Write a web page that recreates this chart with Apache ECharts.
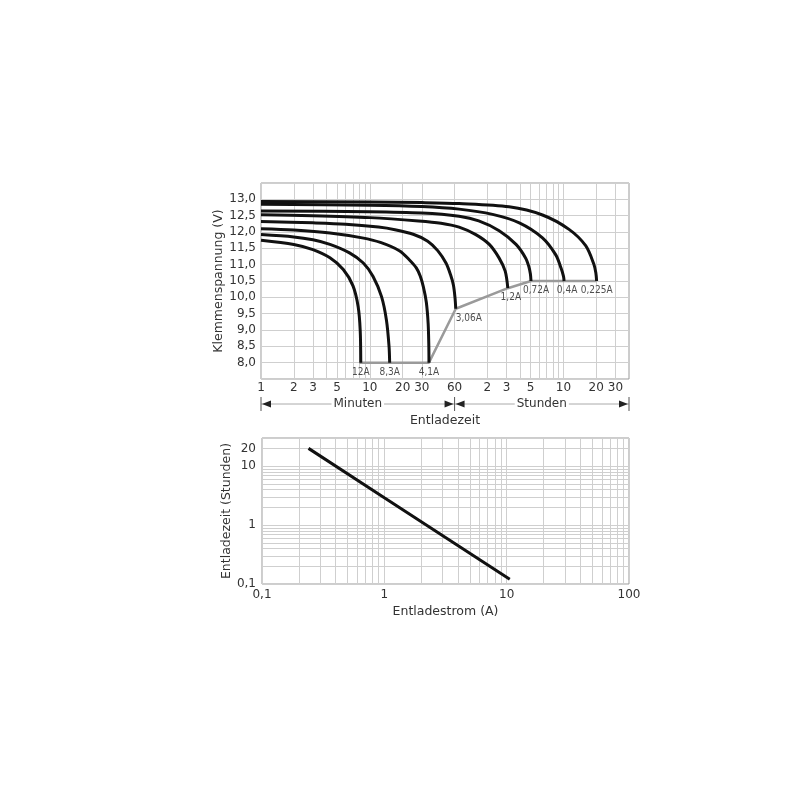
<!DOCTYPE html>
<html>
<head>
<meta charset="utf-8">
<script src="https://cdn.jsdelivr.net/npm/echarts@6/dist/echarts.min.js"></script>
<style>
  html, body { margin: 0; padding: 0; background: #fff; }
  #chart { width: 800px; height: 800px; }
</style>
</head>
<body>
<div id="chart"></div>
<script>
// ---------- Top chart: discharge curves (time in minutes, voltage in V) ----------
const timeTickValues = [1, 2, 3, 5, 10, 20, 30, 60, 120, 180, 300, 600, 1200, 1800];
const timeTickLabels = ['1', '2', '3', '5', '10', '20', '30', '60', '2', '3', '5', '10', '20', '30'];
const timeGridValues = [1, 2, 3, 4, 5, 6, 7, 8, 9, 10, 20, 30, 60, 120, 180, 240, 300, 360, 420, 480, 540, 600, 1200, 1800];

const curveNames = ['12A', '8,3A', '4,1A', '3,06A', '1,2A', '0,72A', '0,4A', '0,225A'];
const c12A = [[1, 11.75], [2, 11.62], [3, 11.46], [4.3, 11.21], [5.7, 10.85], [7, 10.35], [7.8, 9.72], [8.15, 9.0], [8.25, 8.0]];
const c8_3A = [[1, 11.92], [2, 11.85], [3, 11.76], [4.3, 11.62], [6.5, 11.36], [8.7, 11.05], [10.7, 10.64], [12.8, 10.02], [14.2, 9.3], [15, 8.5], [15.2, 8.0]];
const c4_1A = [[1, 12.1], [2, 12.06], [4.3, 11.97], [8.5, 11.82], [12.5, 11.68], [18.8, 11.42], [23, 11.15], [26.7, 10.9], [29, 10.65], [31, 10.32], [33, 9.85], [34.3, 9.2], [34.8, 8.5], [34.9, 8.0]];
const c3_06A = [[1, 12.32], [3, 12.28], [6, 12.24], [12, 12.15], [17, 12.07], [25, 11.93], [34, 11.72], [42, 11.43], [50, 11.05], [55, 10.7], [58.5, 10.38], [60.5, 10.0], [61.5, 9.65]];
const c1_2A = [[1, 12.53], [3, 12.5], [10, 12.44], [28, 12.34], [45, 12.27], [66, 12.15], [94, 11.92], [125, 11.62], [154, 11.2], [175, 10.8], [185, 10.28]];
const c0_72A = [[1, 12.64], [10, 12.62], [30, 12.58], [66, 12.48], [100, 12.34], [154, 12.04], [220, 11.62], [270, 11.2], [288, 10.95], [298, 10.72], [302, 10.5]];
const c0_4A = [[1, 12.85], [10, 12.82], [30, 12.78], [66, 12.7], [134, 12.54], [236, 12.28], [385, 11.82], [510, 11.3], [570, 10.9], [600, 10.65], [608, 10.5]];
const c0_225A = [[1, 12.93], [10, 12.92], [30, 12.9], [66, 12.87], [190, 12.77], [385, 12.52], [675, 12.08], [960, 11.58], [1140, 11.02], [1190, 10.75], [1210, 10.5]];
const curves = [c12A, c8_3A, c4_1A, c3_06A, c1_2A, c0_72A, c0_4A, c0_225A];
const endVoltageLine = [[8.0, 8.0], [34.9, 8.0], [61.5, 9.65], [185, 10.28], [302, 10.5], [1210, 10.5]];

// ---------- Bottom chart: discharge time vs. current ----------
const currentTickValues = [0.1, 1, 10, 100];
const currentGridValues = [0.1, 0.2, 0.3, 0.4, 0.5, 0.6, 0.7, 0.8, 0.9, 1, 2, 3, 4, 5, 6, 7, 8, 9, 10, 20, 30, 40, 50, 60, 70, 80, 90, 100];
const hoursTickValues = [0.1, 1, 10, 20];
const hoursGridValues = [0.1, 0.2, 0.3, 0.4, 0.5, 0.6, 0.7, 0.8, 0.9, 1, 2, 3, 4, 5, 6, 7, 8, 9, 10, 20, 30];
const currentA = [0.24, 1, 10.6];
const dischargeHours = [20, 2.9, 0.12];

// label offsets (styling only)
const labelOffsets = [[0, 0], [0, 0], [0, 0], [13, 0], [3, 0], [5, 0], [3, 0], [0, 0]];

const TXT = '#333';
const GRIDC = '#cfcfcf';
const FONT = "'DejaVu Sans', Verdana, sans-serif";
const NARROW = "'Liberation Sans Narrow', 'DejaVu Sans Condensed', sans-serif";

function commaNum(v, d) { return v.toFixed(d).replace('.', ','); }
function nearestLabel(v, vals, labels) {
  let best = 0, bd = Infinity;
  vals.forEach((t, i) => { const d = Math.abs(Math.log(t) - Math.log(v)); if (d < bd) { bd = d; best = i; } });
  return bd < 0.01 ? labels[best] : '';
}

const chart = echarts.init(document.getElementById('chart'), null, { renderer: 'canvas' });

const series = [];
series.push({
  type: 'line', xAxisIndex: 0, yAxisIndex: 0, data: endVoltageLine,
  showSymbol: false, lineStyle: { color: '#9a9a9a', width: 2.5 }, z: 2, silent: true
});
curves.forEach((c) => {
  series.push({
    type: 'line', xAxisIndex: 0, yAxisIndex: 0, data: c,
    showSymbol: false, smooth: 0.3,
    lineStyle: { color: '#111', width: 3 }, z: 3, silent: true
  });
});
series.push({
  type: 'scatter', xAxisIndex: 0, yAxisIndex: 0, symbolSize: 1,
  itemStyle: { color: 'rgba(0,0,0,0)' }, z: 4, silent: true,
  data: curves.map((c, i) => ({
    value: c[c.length - 1],
    label: {
      show: true, formatter: curveNames[i], position: 'bottom', distance: 4,
      offset: labelOffsets[i], fontFamily: NARROW, fontSize: 10, color: '#222'
    }
  }))
});
series.push({
  type: 'line', xAxisIndex: 1, yAxisIndex: 1,
  data: currentA.map((a, i) => [a, dischargeHours[i]]),
  showSymbol: false, lineStyle: { color: '#111', width: 3 }, silent: true
});

const option = {
  backgroundColor: '#fff',
  animation: false,
  textStyle: { fontFamily: FONT, color: TXT },
  grid: [
    { left: 261, top: 183, width: 368, height: 196, show: true, borderColor: '#9a9a9a', borderWidth: 1, containLabel: false },
    { left: 262, top: 438, width: 367, height: 146, show: true, borderColor: '#9a9a9a', borderWidth: 1, containLabel: false }
  ],
  xAxis: [
    {
      gridIndex: 0, type: 'log', logBase: 10, min: 1, max: 2400,
      axisLine: { show: false },
      axisTick: { show: false, customValues: timeGridValues },
      axisLabel: {
        customValues: timeTickValues, margin: 3, fontSize: 12, color: TXT, fontFamily: FONT,
        formatter: (v) => nearestLabel(v, timeTickValues, timeTickLabels)
      },
      splitLine: { show: true, lineStyle: { color: GRIDC, width: 1 } },
      name: 'Entladezeit', nameLocation: 'middle', nameGap: 35,
      nameTextStyle: { fontSize: 12.5, color: TXT, fontFamily: FONT }
    },
    {
      gridIndex: 1, type: 'log', logBase: 10, min: 0.1, max: 100,
      axisLine: { show: false },
      axisTick: { show: false, customValues: currentGridValues },
      axisLabel: {
        customValues: currentTickValues, margin: 5, fontSize: 12, color: TXT, fontFamily: FONT,
        formatter: (v) => v < 0.99 ? commaNum(v, 1) : String(Math.round(v))
      },
      splitLine: { show: true, lineStyle: { color: GRIDC, width: 1 } },
      name: 'Entladestrom (A)', nameLocation: 'middle', nameGap: 21,
      nameTextStyle: { fontSize: 12.5, color: TXT, fontFamily: FONT }
    }
  ],
  yAxis: [
    {
      gridIndex: 0, type: 'value', min: 7.5, max: 13.5, interval: 0.5,
      axisLine: { show: false }, axisTick: { show: false },
      axisLabel: {
        margin: 5, fontSize: 12, color: TXT, fontFamily: FONT,
        formatter: (v) => (v < 7.9 || v > 13.1) ? '' : commaNum(v, 1)
      },
      splitLine: { show: true, lineStyle: { color: GRIDC, width: 1 } },
      name: 'Klemmenspannung (V)', nameLocation: 'middle', nameGap: 26, nameRotate: 90,
      nameTextStyle: { fontSize: 12.5, color: TXT, fontFamily: FONT }
    },
    {
      gridIndex: 1, type: 'log', logBase: 10, min: 0.1, max: 30,
      axisLine: { show: false },
      axisTick: { show: false, customValues: hoursGridValues },
      axisLabel: {
        customValues: hoursTickValues, margin: 6, fontSize: 12, color: TXT, fontFamily: FONT,
        formatter: (v) => v < 0.99 ? commaNum(v, 1) : String(Math.round(v))
      },
      splitLine: { show: true, lineStyle: { color: GRIDC, width: 1 } },
      name: 'Entladezeit (Stunden)', nameLocation: 'middle', nameGap: 14, nameRotate: 90,
      nameTextStyle: { fontSize: 12.5, color: TXT, fontFamily: FONT }
    }
  ],
  series: series
};
chart.setOption(option);

// Minuten / Stunden arrow row under the top x axis
const xL = chart.convertToPixel({ xAxisIndex: 0 }, 1);
const xM = chart.convertToPixel({ xAxisIndex: 0 }, 60);
const xR = chart.convertToPixel({ xAxisIndex: 0 }, 2400);
const yA = 404;
const gfx = [];
gfx.push({ type: 'line', shape: { x1: xL, y1: yA, x2: xR, y2: yA }, style: { stroke: '#aaa', lineWidth: 1 } });
[xL, xM, xR].forEach((x) => {
  gfx.push({ type: 'line', shape: { x1: x, y1: yA - 7, x2: x, y2: yA + 7 }, style: { stroke: '#555', lineWidth: 1 } });
});
const arrow = (tip, dir) => ({
  type: 'polygon',
  shape: { points: [[tip, yA], [tip + dir * 9, yA - 3.5], [tip + dir * 9, yA + 3.5]] },
  style: { fill: '#222' }
});
gfx.push(arrow(xL + 1, 1), arrow(xM - 1, -1), arrow(xM + 1, 1), arrow(xR - 1, -1));
gfx.push({
  type: 'text', x: (xL + xM) / 2, y: yA,
  style: { text: 'Minuten', font: '12px ' + FONT, fill: TXT, align: 'center', verticalAlign: 'middle', backgroundColor: '#fff', padding: [0, 2] }
});
gfx.push({
  type: 'text', x: (xM + xR) / 2, y: yA,
  style: { text: 'Stunden', font: '12px ' + FONT, fill: TXT, align: 'center', verticalAlign: 'middle', backgroundColor: '#fff', padding: [0, 2] }
});
chart.setOption({ graphic: gfx });
</script>
</body>
</html>
